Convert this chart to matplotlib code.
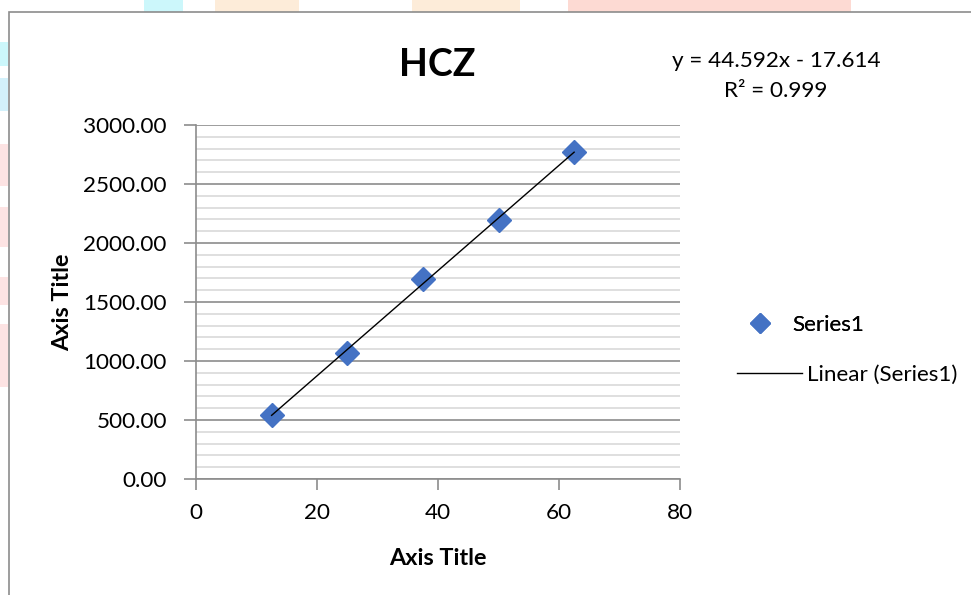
#!/usr/bin/env python3
import matplotlib
matplotlib.use("Agg")
import matplotlib.pyplot as plt
from matplotlib.patches import Rectangle
from matplotlib.lines import Line2D
from matplotlib.ticker import MultipleLocator
import numpy as np

# ─── Data ───────────────────────────────────────────────────────────────────────
conc = [12.5, 25.0, 37.5, 50.0, 62.5]
area = [545.0, 1068.0, 1697.0, 2193.0, 2770.0]
x_ticks = [0, 20, 40, 60, 80]
y_ticks = [0, 500, 1000, 1500, 2000, 2500, 3000]
equation = "y = 44.592x - 17.614"
r_squared = "R² = 0.999"
# ────────────────────────────────────────────────────────────────────────────────

BLUE = '#4472C4'
GRID_MAJOR = '#8c8c8c'
GRID_MINOR = '#d9d9d9'
FRAME = '#8c8c8c'
FS = 16.2

plt.rcParams['font.family'] = ['Lato', 'DejaVu Sans']

W, H = 971, 595
fig = plt.figure(figsize=(W / 100, H / 100), dpi=100)


def px_rect(x0, y0, x1, y1, color, **kw):
    # rectangle in pixel coords (origin top-left)
    return Rectangle((x0 / W, 1 - y1 / H), (x1 - x0) / W, (y1 - y0) / H,
                     transform=fig.transFigure, facecolor=color,
                     edgecolor='none', **kw)


# faint watermark patches peeking out around the chart frame
for x0, y0, x1, y1, c in [
    (144, 0, 183, 12, '#ccf7fb'), (215, 0, 299, 12, '#fdecd9'),
    (412, 0, 520, 12, '#fdecd9'), (568, 0, 851, 12, '#fddad3'),
    (0, 42, 8, 66, '#ccf7fb'), (0, 78, 8, 111, '#d3f1fb'),
    (0, 144, 8, 186, '#fde3e3'), (0, 207, 8, 247, '#fde3e3'),
    (0, 277, 8, 305, '#fde3e3'), (0, 324, 8, 387, '#fde3e3'),
]:
    fig.patches.append(px_rect(x0, y0, x1, y1, c, zorder=-2))

# chart frame
fig.patches.append(Rectangle((8.5 / W, -0.05), 1.1, 1.05 - 12.5 / H,
                             transform=fig.transFigure, facecolor='white',
                             edgecolor=FRAME, linewidth=1.2, zorder=-1))

ax = fig.add_axes([196 / W, (H - 479) / H, (680 - 196) / W, (479 - 125) / H])
ax.set_facecolor('none')

# trendline
coef = np.polyfit(conc, area, 1)
xs = np.array([conc[0], conc[-1]])
ax.plot(xs, np.polyval(coef, xs), color='black', linewidth=1.0, zorder=3)
ax.plot(conc, area, linestyle='none', marker='D', markersize=12,
        color=BLUE, zorder=2)

ax.set_xlim(0, 80)
ax.set_ylim(0, 3000)
ax.set_xticks(x_ticks)
ax.set_yticks(y_ticks)
ax.set_yticklabels([f"{v:.2f}" for v in y_ticks])
ax.yaxis.set_minor_locator(MultipleLocator(100))

ax.grid(axis='y', which='major', color=GRID_MAJOR, linewidth=1.2, zorder=0)
ax.grid(axis='y', which='minor', color=GRID_MINOR, linewidth=1.2, zorder=0)
ax.set_axisbelow(True)

for s in ['top', 'right']:
    ax.spines[s].set_visible(False)
for s in ['left', 'bottom']:
    ax.spines[s].set_color(GRID_MAJOR)
    ax.spines[s].set_linewidth(1.2)

ax.tick_params(axis='x', which='major', direction='out', length=8, width=1.2,
               color=GRID_MAJOR, labelsize=FS, pad=9)
ax.tick_params(axis='y', which='major', direction='out', length=9, width=1.2,
               color=GRID_MAJOR, labelsize=FS, pad=12)
ax.tick_params(axis='y', which='minor', length=0)

ax.set_xlabel('Axis Title', fontsize=16.8, fontweight='bold', labelpad=18)
ax.set_ylabel('Axis Title', fontsize=16.8, fontweight='bold', labelpad=7)

fig.text(437 / W, 1 - 65 / H, 'HCZ', fontsize=27, fontweight='bold',
         ha='center', va='center')
fig.text(776 / W, 1 - 61 / H, equation, fontsize=FS, ha='center', va='center')
fig.text(776 / W, 1 - 91 / H, r_squared, fontsize=FS, ha='center', va='center')

# legend entries (Excel aligns them differently, so two legends)
h_pts = Line2D([], [], linestyle='none', marker='D', markersize=10, color=BLUE)
h_fit = Line2D([], [], color='black', linewidth=1.0)
leg1 = fig.legend([h_pts], ['Series1'], loc='center left',
                  bbox_to_anchor=(746 / W, 1 - 325 / H), frameon=False,
                  fontsize=FS, handlelength=1.2, handletextpad=0.87,
                  borderaxespad=0, borderpad=0)
fig.legend([h_fit], ['Linear (Series1)'], loc='center left',
           bbox_to_anchor=(737 / W, 1 - 375 / H), frameon=False,
           fontsize=FS, handlelength=2.9, handletextpad=0.2,
           borderaxespad=0, borderpad=0)
fig.add_artist(leg1)

fig.savefig('out.png', dpi=100)
